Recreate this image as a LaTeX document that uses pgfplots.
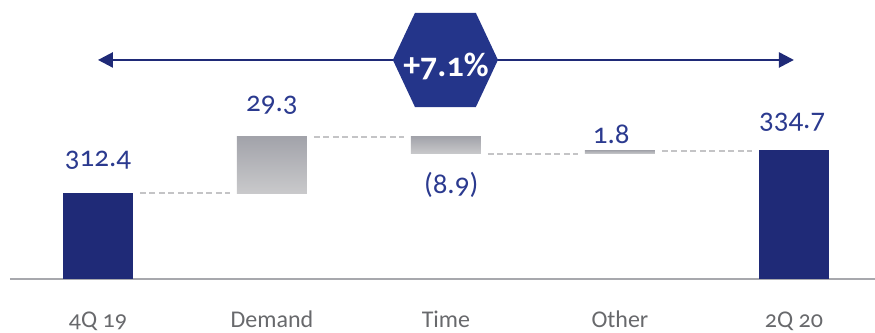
\documentclass[border=0pt]{standalone}
\usepackage{fontspec}
\setmainfont{Carlito}[Numbers=OldStyle]
\usepackage{pgfplots}
\pgfplotsset{compat=1.18}
\usetikzlibrary{arrows.meta}
\definecolor{navy}{HTML}{1F2A77}
\definecolor{hexblue}{HTML}{24358A}
\definecolor{labblue}{HTML}{2B3A8F}
\definecolor{gtop}{HTML}{A2A3AA}
\definecolor{gbot}{HTML}{C9C9CB}
\definecolor{axgray}{HTML}{A7A8AD}
\definecolor{dashgray}{HTML}{C4C4C6}
\definecolor{catgray}{HTML}{68696C}
\begin{document}
\begin{tikzpicture}
\begin{axis}[name=ax, width=875pt, height=333pt, scale only axis,
  xmin=-0.563, xmax=4.466, ymin=239.8, ymax=412.5, hide axis, clip=false]
% base line
\addplot[draw=axgray, line width=2pt] coordinates {(-0.506,267.8) (4.466,267.8)};
% totals
\addplot[fill=navy, draw=none] coordinates {(-0.201,267.8)(0.201,267.8)(0.201,312.4)(-0.201,312.4)} -- cycle;
\addplot[fill=navy, draw=none] coordinates {(3.799,267.8)(4.201,267.8)(4.201,334.7)(3.799,334.7)} -- cycle;
% changes
\addplot[draw=none, top color=gtop, bottom color=gbot] coordinates {(0.799,312.4)(1.201,312.4)(1.201,341.7)(0.799,341.7)} -- cycle;
\addplot[draw=none, top color=gtop, bottom color=gbot] coordinates {(1.799,332.8)(2.201,332.8)(2.201,341.7)(1.799,341.7)} -- cycle;
\addplot[draw=none, top color=gtop, bottom color=gbot] coordinates {(2.799,332.8)(3.201,332.8)(3.201,334.6)(2.799,334.6)} -- cycle;
% connectors
\addplot[dashgray, line width=2pt, dash pattern=on 6pt off 3.5pt] coordinates {(0.241,312.4)(0.759,312.4)};
\addplot[dashgray, line width=2pt, dash pattern=on 6pt off 3.5pt] coordinates {(1.241,341.7)(1.759,341.7)};
\addplot[dashgray, line width=2pt, dash pattern=on 6pt off 3.5pt] coordinates {(2.241,332.8)(2.759,332.8)};
\addplot[dashgray, line width=2pt, dash pattern=on 6pt off 3.5pt] coordinates {(3.241,334.4)(3.759,334.4)};
% arrow
\addplot[navy, line width=2.5pt, {Triangle[length=15pt,width=15pt]}-{Triangle[length=15pt,width=15pt]}] coordinates {(0,381.4)(4,381.4)};
% hexagon
\addplot[fill=hexblue, draw=none] coordinates {(1.695,381.4)(1.822,405.8)(2.172,405.8)(2.299,381.4)(2.172,357.0)(1.822,357.0)} -- cycle;
\node[anchor=base, text=white, font=\fontsize{34}{34}\selectfont\bfseries, inner sep=0pt] at (axis cs:2.0,373.0) {+7.1\%};
% value labels
\node[anchor=base, text=labblue, font=\fontsize{29}{29}\selectfont, inner sep=0pt] at (axis cs:0,325.9) {312.4};
\node[anchor=base, text=labblue, font=\fontsize{29}{29}\selectfont, inner sep=0pt] at (axis cs:1,354.9) {29.3};
\node[anchor=base, text=labblue, font=\fontsize{29}{29}\selectfont, inner sep=0pt] at (axis cs:2.03,312.4) {(8.9)};
\node[anchor=base, text=labblue, font=\fontsize{29}{29}\selectfont, inner sep=0pt] at (axis cs:2.95,338.3) {1.8};
\node[anchor=base, text=labblue, font=\fontsize{29}{29}\selectfont, inner sep=0pt] at (axis cs:3.99,346.1) {334.7};
% category labels
\node[anchor=base, text=catgray, font=\fontsize{24}{24}\selectfont, inner sep=0pt] at (axis cs:0,242.4) {4Q 19};
\node[anchor=base, text=catgray, font=\fontsize{24}{24}\selectfont, inner sep=0pt] at (axis cs:1,242.4) {Demand};
\node[anchor=base, text=catgray, font=\fontsize{24}{24}\selectfont, inner sep=0pt] at (axis cs:2,242.4) {Time};
\node[anchor=base, text=catgray, font=\fontsize{24}{24}\selectfont, inner sep=0pt] at (axis cs:3,242.4) {Other};
\node[anchor=base, text=catgray, font=\fontsize{24}{24}\selectfont, inner sep=0pt] at (axis cs:4,242.4) {2Q 20};
\end{axis}
\pgfresetboundingbox
\path (ax.south west) rectangle (ax.north east);
\end{tikzpicture}
\end{document}
